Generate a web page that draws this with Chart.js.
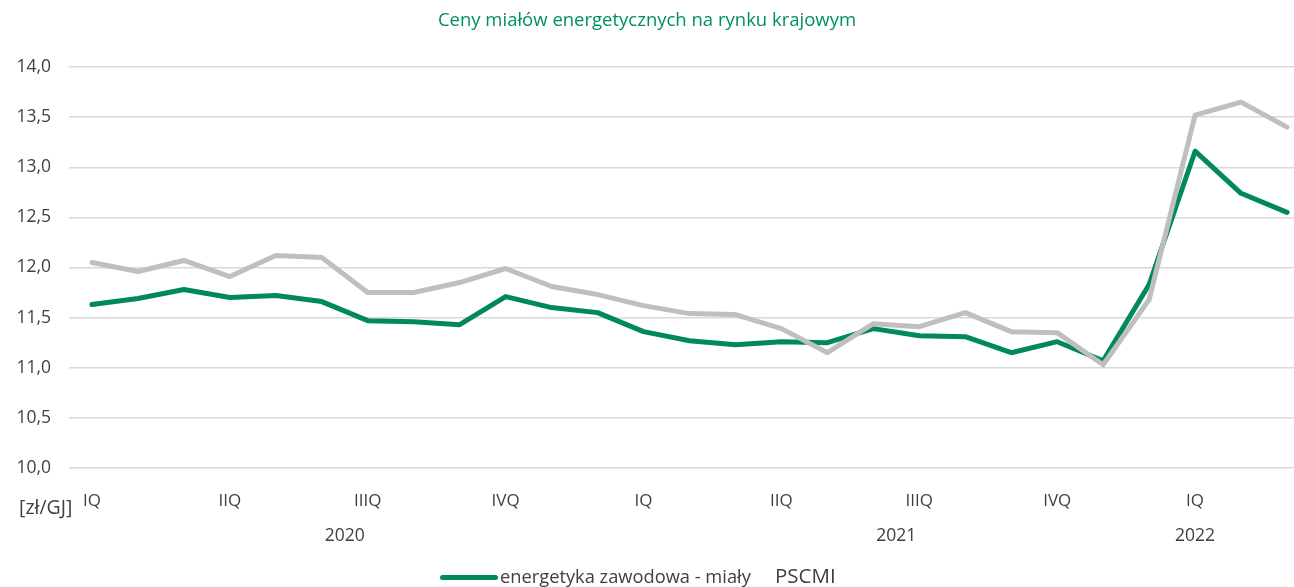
<!DOCTYPE html>
<html>
<head>
<meta charset="utf-8">
<script src="https://cdn.jsdelivr.net/npm/chart.js@4"></script>
<style>
  body { margin: 0; width: 1294px; height: 587px; overflow: hidden; position: relative; background: #fff; font-family: 'Open Sans', sans-serif; }
  #wrap { position: absolute; left: 0; top: 0; width: 1310px; height: 587px; }
  #title { position: absolute; left: 0; width: 1294px; top: 6px; text-align: center; color: #00915A; font-size: 18.5px; }
  #unit { position: absolute; left: 19px; top: 493px; color: #404040; font-size: 19.5px; }
  #legend { position: absolute; left: 440px; top: 564px; height: 24px; color: #404040; white-space: nowrap; }
  .lg-line { position: absolute; left: 0; top: 11px; width: 58px; height: 5px; border-radius: 3px; background: #00895A; }
  .lg-a { position: absolute; left: 60px; top: -1px; font-size: 18.3px; }
  .lg-b { position: absolute; left: 335px; top: -3px; font-size: 20.5px; }
</style>
</head>
<body>
<div id="wrap"><canvas id="c"></canvas></div>
<div id="title">Ceny miałów energetycznych na rynku krajowym</div>
<div id="unit">[zł/GJ]</div>
<div id="legend"></div>
<script>
// monthly points, Jan 2020 .. Mar 2022; quarter name only on the first month
var quarterLabels = ['IQ', '', '', 'IIQ', '', '', 'IIIQ', '', '', 'IVQ', '', '',
                     'IQ', '', '', 'IIQ', '', '', 'IIIQ', '', '', 'IVQ', '', '',
                     'IQ', '', ''];
var years = ['2020', '2021', '2022'];
var yearPos = [5.5, 17.5, 24];

var seriesNames = ['energetyka zawodowa - miały', 'PSCMI'];
var energetyka = [11.63, 11.69, 11.78, 11.70, 11.72, 11.66, 11.47, 11.46, 11.43, 11.71, 11.60, 11.55,
                  11.36, 11.27, 11.23, 11.26, 11.25, 11.39, 11.32, 11.31, 11.15, 11.26, 11.07, 11.83,
                  13.16, 12.74, 12.55];
var pscmi = [12.05, 11.96, 12.07, 11.91, 12.12, 12.10, 11.75, 11.75, 11.85, 11.99, 11.81, 11.73,
             11.62, 11.54, 11.53, 11.39, 11.15, 11.44, 11.41, 11.55, 11.36, 11.35, 11.03, 11.68,
             13.52, 13.65, 13.40];

var GREEN = '#00895A', GREY = '#BFBFBF', TXT = '#404040';

// HTML legend (the grey key is covered in the original, only its name shows)
var lg = document.getElementById('legend');
lg.innerHTML = '<span class="lg-line"></span>' +
  '<span class="lg-a">' + seriesNames[0] + '</span>' +
  '<span class="lg-b">' + seriesNames[1] + '</span>';

// year row under the quarter labels, placed through the x scale
var yearRow = {
  id: 'yearRow',
  afterDraw: function(chart) {
    var ctx = chart.ctx, x = chart.scales.x;
    ctx.save();
    ctx.font = '17.5px "Open Sans"';
    ctx.fillStyle = TXT;
    ctx.textAlign = 'center';
    ctx.textBaseline = 'middle';
    years.forEach(function(y, i) { ctx.fillText(y, x.getPixelForValue(yearPos[i]), 536); });
    ctx.restore();
  }
};

new Chart(document.getElementById('c').getContext('2d'), {
  type: 'line',
  data: {
    labels: quarterLabels,
    datasets: [
      { label: seriesNames[0], data: energetyka, borderColor: GREEN, borderWidth: 5, order: 1,
        pointRadius: 0, tension: 0, borderJoinStyle: 'round', borderCapStyle: 'round' },
      { label: seriesNames[1], data: pscmi, borderColor: GREY, borderWidth: 5, order: 0,
        pointRadius: 0, tension: 0, borderJoinStyle: 'round', borderCapStyle: 'round' }
    ]
  },
  options: {
    responsive: true, maintainAspectRatio: false, animation: false,
    layout: { padding: { top: 67, left: 0, right: 0, bottom: 0 } },
    plugins: { legend: { display: false }, tooltip: { enabled: false } },
    scales: {
      x: {
        offset: true,
        grid: { display: false },
        border: { display: false },
        ticks: { autoSkip: false, maxRotation: 0, padding: 15, color: TXT, font: { family: 'Open Sans', size: 17 } },
        afterFit: function(s) { s.height = 119; }
      },
      y: {
        min: 10, max: 14,
        grid: { color: '#D9D9D9', lineWidth: 1.5, drawTicks: false },
        border: { display: false },
        ticks: { stepSize: 0.5, padding: 18, color: TXT, font: { family: 'Open Sans', size: 17.5 },
          callback: function(v) { return v.toFixed(1).replace('.', ','); } },
        afterFit: function(s) { s.width = 69; }
      }
    }
  },
  plugins: [yearRow]
});
</script>
</body>
</html>
